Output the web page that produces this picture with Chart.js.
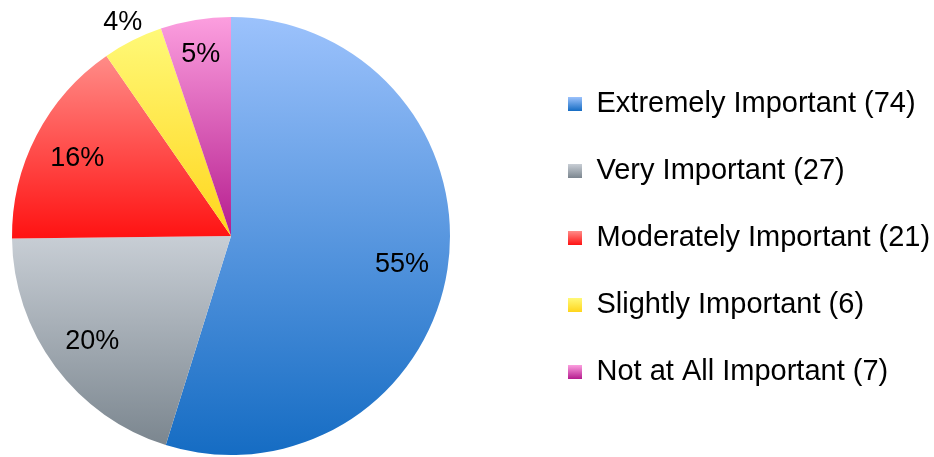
<!DOCTYPE html>
<html>
<head>
<meta charset="utf-8">
<title>Importance</title>
<script src="https://cdn.jsdelivr.net/npm/chart.js@4/dist/chart.umd.min.js"></script>
<style>
  html, body { margin: 0; padding: 0; background: #fff; }
  #wrap { width: 934px; height: 457px; position: relative; }
</style>
</head>
<body>
<div id="wrap"><canvas id="chartPie"></canvas></div>
<script>
  // data
  var CATEGORIES = ['Extremely Important', 'Very Important', 'Moderately Important',
                    'Slightly Important', 'Not at All Important'];
  var COUNTS = [74, 27, 21, 6, 7];
  // gradient stops per slice: light (top) -> dark (bottom)
  var COLOR_TOP    = ['#9CC2FC', '#C8CED5', '#FF8C88', '#FFF978', '#FC9FDF'];
  var COLOR_BOTTOM = ['#156CC3', '#7B868F', '#FF1212', '#FFD51C', '#B51C8E'];

  var FONT = '"Liberation Sans", Arial, sans-serif';
  var LEGEND_SIZE = 29;
  var LEGEND_PAD = 38;
  var BOX = 14;
  var LEGEND_X = 568;   // left edge of legend squares
  var LEGEND_DY = 2;    // legend a touch lower than centred
  var PIE_CX = 231;     // pie centre

  var total = COUNTS.reduce(function(s, v) { return s + v; }, 0);

  function sliceGradient(ctx) {
    var chart = ctx.chart;
    var area = chart.chartArea;
    var i = ctx.dataIndex;
    if (!area || i === undefined) return COLOR_TOP[0];
    var cx = (area.left + area.right) / 2;
    var cy = (area.top + area.bottom) / 2;
    var r = Math.min(area.right - area.left, area.bottom - area.top) / 2;
    var before = 0;
    for (var k = 0; k < i; k++) before += COUNTS[k];
    var a0 = -Math.PI / 2 + 2 * Math.PI * before / total;
    var a1 = a0 + 2 * Math.PI * COUNTS[i] / total;
    var ys = [cy, cy + r * Math.sin(a0), cy + r * Math.sin(a1)];
    [-Math.PI / 2, Math.PI / 2, 3 * Math.PI / 2].forEach(function(a) {
      if (a >= a0 && a <= a1) ys.push(cy + r * Math.sin(a));
    });
    var y0 = Math.min.apply(null, ys), y1 = Math.max.apply(null, ys);
    var g = chart.ctx.createLinearGradient(0, y0, 0, y1);
    g.addColorStop(0, COLOR_TOP[i]);
    g.addColorStop(1, COLOR_BOTTOM[i]);
    return g;
  }

  // moves the legend to the right and the pie to the left of the free space
  var placeBoxes = {
    id: 'placeBoxes',
    afterLayout: function(chart) {
      var lg = chart.legend;
      var shift = LEGEND_X - (lg.left + LEGEND_PAD);
      lg.left += shift;
      lg.right += shift;
      lg.top += LEGEND_DY;
      lg.bottom += LEGEND_DY;
      var area = chart.chartArea;
      area.left = 2 * PIE_CX - area.right;
      area.width = area.right - area.left;
    }
  };

  // paints the small legend squares with the same light-to-dark look
  var legendGradients = {
    id: 'legendGradients',
    beforeDraw: function(chart) {
      var lg = chart.legend;
      if (!lg || !lg.legendItems || !lg.columnSizes) return;
      var colH = lg.columnSizes[0].height;
      var top0 = ((lg.top + LEGEND_PAD) + (lg.bottom - colH)) / 2;
      lg.legendItems.forEach(function(item, i) {
        var y0 = top0 + i * (LEGEND_SIZE + LEGEND_PAD) + Math.max((LEGEND_SIZE - BOX) / 2, 0);
        var g = chart.ctx.createLinearGradient(0, y0, 0, y0 + BOX);
        g.addColorStop(0, COLOR_TOP[i]);
        g.addColorStop(1, COLOR_BOTTOM[i]);
        item.fillStyle = g;
      });
    }
  };

  // percentage labels on the slices
  var pctLabels = {
    id: 'pctLabels',
    afterDatasetsDraw: function(chart) {
      var ctx = chart.ctx;
      var meta = chart.getDatasetMeta(0);
      ctx.save();
      ctx.font = '27px ' + FONT;
      ctx.fillStyle = '#000';
      ctx.textAlign = 'center';
      ctx.textBaseline = 'middle';
      meta.data.forEach(function(arc, i) {
        var p = arc.getProps(['x', 'y', 'startAngle', 'endAngle', 'outerRadius'], true);
        var share = COUNTS[i] / total;
        var mid = (p.startAngle + p.endAngle) / 2;
        var d = share < 0.05 ? p.outerRadius + 22 : (share < 0.1 ? p.outerRadius * 0.85 : p.outerRadius * 0.79);
        var x = p.x + Math.cos(mid) * d;
        var y = p.y + Math.sin(mid) * d + 2;
        ctx.fillText(Math.round(share * 100) + '%', x, y);
      });
      ctx.restore();
    }
  };

  new Chart(document.getElementById('chartPie'), {
    type: 'pie',
    data: {
      labels: CATEGORIES,
      datasets: [{
        data: COUNTS,
        backgroundColor: sliceGradient,
        borderWidth: 0,
        hoverOffset: 0
      }]
    },
    options: {
      responsive: true, maintainAspectRatio: false,
      animation: false,
      layout: { padding: { left: 0, right: 0, top: 17, bottom: 2 } },
      plugins: {
        tooltip: { enabled: false },
        legend: {
          position: 'right',
          labels: {
            color: '#000',
            font: { family: FONT, size: LEGEND_SIZE },
            boxWidth: BOX, boxHeight: BOX,
            padding: LEGEND_PAD,
            generateLabels: function(chart) {
              var items = Chart.overrides.pie.plugins.legend.labels.generateLabels(chart);
              items.forEach(function(it, i) {
                it.text = CATEGORIES[i] + ' (' + COUNTS[i] + ')';
                it.lineWidth = 0;
                it.strokeStyle = 'rgba(0,0,0,0)';
              });
              return items;
            }
          }
        }
      }
    },
    plugins: [placeBoxes, legendGradients, pctLabels]
  });
</script>
</body>
</html>
